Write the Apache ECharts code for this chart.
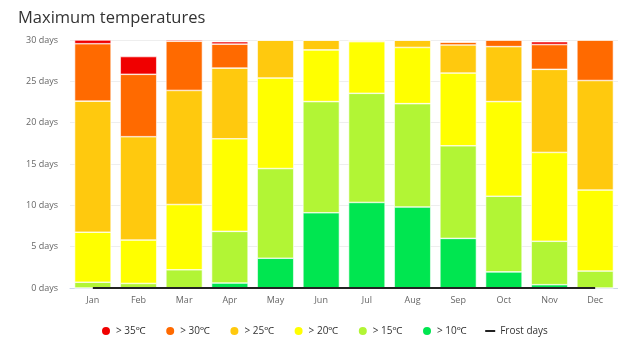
<!DOCTYPE html>
<html>
<head>
<meta charset="utf-8">
<script src="https://cdn.jsdelivr.net/npm/echarts@6/dist/echarts.min.js"></script>
<style>
  html, body { margin: 0; padding: 0; background: #fff; }
  #chart { width: 618px; height: 340px; }
</style>
</head>
<body>
<div id="chart"></div>
<script>
// Monthly count of days whose maximum temperature falls in each band
const months = ['Jan', 'Feb', 'Mar', 'Apr', 'May', 'Jun', 'Jul', 'Aug', 'Sep', 'Oct', 'Nov', 'Dec'];

const over10 = [0, 0, 0, 0.6, 3.6, 9.1, 10.35, 9.8, 6.0, 1.95, 0.4, 0];
const over15 = [0.7, 0.55, 2.2, 6.25, 10.85, 13.45, 13.2, 12.5, 11.2, 9.15, 5.25, 2.05];
const over20 = [6.05, 5.25, 7.9, 11.2, 10.95, 6.25, 6.25, 6.8, 8.8, 11.45, 10.75, 9.8];
const over25 = [15.85, 12.5, 13.8, 8.55, 4.6, 1.2, 0.2, 0.9, 3.4, 6.65, 10.05, 13.25];
const over30 = [6.95, 7.55, 5.95, 2.9, 0, 0, 0, 0, 0.35, 0.8, 3.0, 4.9];
const over35 = [0.45, 2.15, 0.15, 0.3, 0, 0, 0, 0, 0, 0, 0.35, 0];
const frostDays = [0, 0, 0, 0, 0, 0, 0, 0, 0, 0, 0, 0];

const yTicks = { min: 0, max: 30, interval: 5 };

const bands = [
  { name: '> 10℃', data: over10, color: '#00e650' },
  { name: '> 15℃', data: over15, color: '#b2f535' },
  { name: '> 20℃', data: over20, color: '#ffff00' },
  { name: '> 25℃', data: over25, color: '#ffc90e' },
  { name: '> 30℃', data: over30, color: '#ff6a00' },
  { name: '> 35℃', data: over35, color: '#f00000' }
];

const font = 'Open Sans, Noto Sans, sans-serif';

const series = bands.map(b => ({
  name: b.name,
  type: 'bar',
  stack: 'days',
  data: b.data,
  barCategoryGap: '20%',
  itemStyle: { color: b.color, borderColor: '#ffffff', borderWidth: 0.6 },
  emphasis: { disabled: true }
}));

series.push({
  name: 'Frost days',
  type: 'line',
  data: frostDays,
  symbol: 'none',
  z: 5,
  lineStyle: { color: '#222222', width: 2 },
  itemStyle: { color: '#222222' }
});

const legendOrder = ['> 35℃', '> 30℃', '> 25℃', '> 20℃', '> 15℃', '> 10℃'];
// short horizontal dash inside a 10x10 box (the bare moves fix the box size)
const dashIcon = 'path://M0,0 M10,10 M0,4 L10,4 L10,6 L0,6 Z';

const chart = echarts.init(document.getElementById('chart'), null, { renderer: 'canvas' });
chart.setOption({
  animation: false,
  title: {
    text: 'Maximum temperatures',
    left: 13,
    top: 5,
    textStyle: { fontFamily: font, fontSize: 16.5, fontWeight: 'normal', color: '#333333' }
  },
  grid: { left: 70, right: -8, top: 40, bottom: 52, containLabel: false },
  xAxis: {
    type: 'category',
    data: months,
    axisLine: { lineStyle: { color: '#ccd6eb' } },
    axisTick: { show: false },
    axisLabel: { color: '#666666', fontSize: 9, fontFamily: font, margin: 8 }
  },
  yAxis: {
    type: 'value',
    min: yTicks.min,
    max: yTicks.max,
    interval: yTicks.interval,
    axisLabel: { formatter: '{value} days', color: '#666666', fontSize: 9, fontFamily: font, margin: 12 },
    splitLine: { lineStyle: { color: '#eeeeee' } },
    axisLine: { show: false },
    axisTick: { show: false }
  },
  legend: {
    left: 95,
    top: 320,
    itemWidth: 10,
    itemHeight: 10,
    itemGap: 18.5,
    textStyle: { fontFamily: font, fontSize: 10, color: '#333333' },
    data: legendOrder.map(n => ({ name: n, icon: 'circle' }))
      .concat([{ name: 'Frost days', icon: dashIcon, itemStyle: { color: '#222222' } }])
  },
  series: series
});
</script>
</body>
</html>
